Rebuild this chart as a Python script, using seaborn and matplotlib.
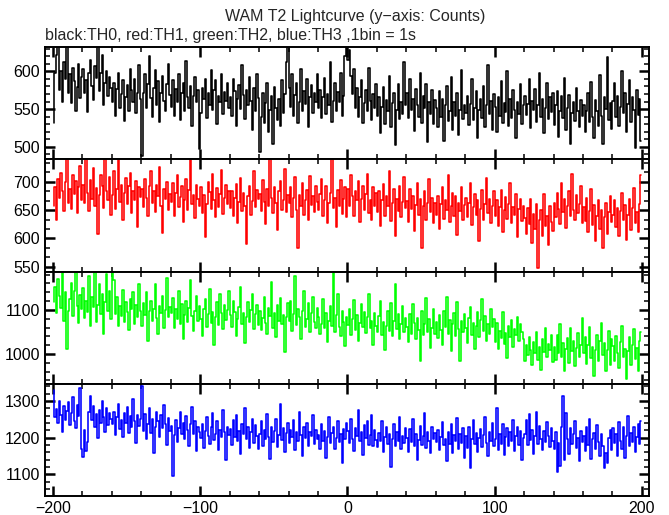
import numpy as np
import pandas as pd
import matplotlib
matplotlib.use("Agg")
import matplotlib.pyplot as plt
from matplotlib.ticker import MultipleLocator, AutoMinorLocator
import seaborn as sns

sns.set_style("ticks")
plt.rcParams['font.family'] = ['Liberation Sans', 'DejaVu Sans']
plt.rcParams['axes.unicode_minus'] = True

# WAM T2 light curve, 1 s bins from -200 s to +200 s
t_start, t_stop, bin_size = -200, 200, 1

th0 = [
    532, 598, 622, 640, 575, 601, 560, 612, 590, 633, 571, 596, 558, 604, 587, 548, 579, 610, 565, 592,
    603, 572, 588, 546, 598, 615, 580, 562, 607, 591, 640, 574, 598, 622, 556, 585, 601, 567, 593, 578,
    560, 584, 541, 577, 598, 552, 570, 589, 534, 566, 582, 548, 603, 575, 559, 590, 545, 571, 608, 563,
    488, 572, 596, 551, 583, 620, 565, 540, 578, 602, 556, 587, 533, 571, 594, 561, 548, 583, 610, 569,
    553, 588, 541, 576, 560, 597, 535, 572, 585, 548, 614, 566, 552, 580, 527, 568, 593, 559, 575, 497,
    545, 578, 563, 590, 538, 571, 556, 602, 549, 575, 588, 530, 567, 559, 596, 544, 573, 561, 585, 552,
    566, 541, 590, 574, 528, 563, 582, 550, 608, 569, 537, 575, 556, 592, 561, 522, 578, 547, 596, 565,
    493, 540, 572, 531, 558, 585, 520, 549, 567, 503, 579, 551, 536, 564, 528, 589, 545, 570, 612, 632,
    578, 553, 596, 541, 569, 585, 532, 560, 603, 548, 574, 557, 590, 526, 566, 582, 545, 571, 559, 597,
    552, 575, 538, 566, 591, 544, 570, 556, 612, 533, 561, 584, 547, 573, 559, 598, 541, 568, 621, 635,
    615, 628, 594, 570, 603, 551, 578, 540, 566, 589, 532, 558, 575, 547, 604, 561, 536, 570, 552, 583,
    541, 566, 518, 553, 579, 530, 562, 547, 594, 526, 558, 571, 502, 549, 583, 537, 560, 544, 612, 555,
    572, 538, 590, 549, 563, 521, 576, 555, 540, 598, 532, 567, 551, 583, 506, 559, 544, 575, 530, 562,
    551, 526, 574, 540, 563, 508, 555, 580, 534, 548, 593, 522, 560, 541, 571, 515, 549, 602, 537, 556,
    545, 568, 529, 557, 590, 536, 552, 574, 511, 549, 563, 538, 581, 526, 556, 608, 543, 561, 522, 570,
    553, 519, 566, 541, 587, 532, 558, 546, 601, 527, 563, 538, 575, 549, 512, 560, 544, 583, 530, 555,
    568, 542, 557, 590, 525, 561, 549, 576, 533, 555, 598, 540, 563, 518, 552, 585, 537, 566, 546, 571,
    529, 556, 574, 513, 548, 567, 538, 591, 522, 551, 569, 503, 545, 560, 534, 578, 547, 526, 562, 541,
    555, 520, 548, 571, 533, 586, 540, 512, 562, 547, 528, 595, 541, 503, 566, 550, 619, 536, 558, 524,
    561, 584, 540, 568, 527, 553, 601, 545, 572, 519, 557, 588, 533, 566, 549, 498, 575, 542, 563, 508,
]

th1 = [
    658, 690, 632, 705, 671, 716, 684, 648, 699, 740, 663, 688, 652, 712, 679, 701, 645, 690, 727, 668,
    695, 662, 740, 681, 648, 703, 670, 724, 657, 689, 608, 676, 712, 692, 654, 740, 683, 667, 709, 641,
    676, 719, 652, 688, 740, 664, 695, 632, 681, 707, 660, 693, 715, 645, 684, 668, 702, 621, 690, 673,
    688, 655, 704, 671, 639, 692, 718, 662, 683, 647, 695, 674, 726, 658, 610, 687, 669, 700, 651, 679,
    664, 697, 640, 681, 712, 655, 673, 692, 629, 668, 705, 651, 686, 740, 660, 677, 636, 694, 670, 657,
    690, 645, 676, 603, 661, 699, 682, 652, 714, 668, 637, 689, 656, 678, 720, 643, 671, 695, 660, 683,
    654, 683, 640, 671, 696, 627, 665, 707, 648, 680, 658, 591, 675, 692, 641, 666, 718, 655, 686, 670,
    679, 648, 703, 665, 626, 688, 657, 740, 672, 645, 691, 662, 615, 683, 701, 650, 668, 722, 647, 676,
    662, 690, 637, 671, 709, 650, 583, 676, 658, 698, 641, 668, 685, 632, 710, 659, 674, 646, 692, 665,
    651, 679, 704, 640, 668, 692, 627, 663, 681, 740, 654, 672, 620, 686, 657, 703, 644, 669, 691, 638,
    688, 658, 712, 675, 640, 683, 667, 701, 629, 670, 692, 651, 679, 714, 645, 668, 633, 690, 657, 681,
    647, 683, 622, 668, 696, 640, 675, 657, 719, 631, 662, 688, 604, 670, 649, 692, 637, 665, 708, 654,
    666, 629, 688, 652, 675, 614, 659, 697, 641, 670, 583, 657, 684, 633, 662, 705, 646, 671, 628, 663,
    642, 675, 617, 660, 691, 635, 668, 650, 712, 629, 657, 681, 640, 674, 606, 663, 648, 690, 633, 659,
    671, 638, 662, 697, 624, 655, 679, 641, 668, 596, 652, 686, 633, 660, 707, 645, 670, 628, 657, 683,
    640, 667, 622, 655, 685, 612, 650, 673, 634, 661, 698, 627, 656, 641, 679, 603, 652, 670, 631, 658,
    636, 608, 653, 625, 670, 592, 643, 617, 661, 548, 632, 650, 604, 678, 622, 640, 588, 657, 629, 613,
    662, 638, 681, 652, 625, 697, 646, 670, 619, 658, 684, 640, 713, 651, 633, 676, 645, 660, 692, 628,
    655, 630, 672, 612, 648, 687, 623, 659, 596, 640, 668, 617, 651, 583, 637, 662, 608, 646, 675, 629,
    641, 667, 620, 653, 604, 648, 681, 632, 659, 597, 642, 670, 615, 653, 689, 628, 646, 611, 660, 712,
]

th2 = [
    1118, 1152, 1093, 1170, 1131, 1104, 1186, 1076, 1140, 1012, 1098, 1125, 1160, 1087, 1142, 1186, 1109, 1070, 1133, 1101,
    1150, 1082, 1120, 1095, 1178, 1064, 1129, 1106, 1186, 1073, 1112, 1158, 1090, 1135, 1046, 1117, 1181, 1098, 1144, 1079,
    1186, 1167, 1091, 1130, 1063, 1109, 1087, 1146, 1072, 1118, 1095, 1054, 1124, 1101, 1140, 1069, 1112, 1083, 1158, 1097,
    1064, 1115, 1089, 1140, 1030, 1097, 1121, 1075, 1102, 1158, 1081, 1046, 1110, 1093, 1132, 1060, 1099, 1172, 1085, 1107,
    1093, 1126, 1058, 1101, 1080, 1142, 1067, 1114, 1034, 1089, 1120, 1073, 1105, 1167, 1086, 1052, 1098, 1131, 1074, 1110,
    1079, 1040, 1103, 1125, 1062, 1091, 1148, 1070, 1096, 1021, 1084, 1118, 1065, 1137, 1092, 1056, 1111, 1077, 1100, 1142,
    1088, 1062, 1121, 1095, 1040, 1079, 1106, 1153, 1069, 1093, 1024, 1085, 1117, 1072, 1099, 1136, 1057, 1090, 1112, 1066,
    1098, 1055, 1082, 1129, 1071, 1046, 1104, 1086, 1163, 1060, 1093, 1038, 1111, 1075, 1128, 1067, 1089, 1004, 1083, 1115,
    1075, 1120, 1052, 1091, 1178, 1066, 1102, 1084, 1035, 1097, 1143, 1061, 1080, 1115, 1049, 1093, 1130, 1072, 1058, 1104,
    1083, 1046, 1069, 1125, 1058, 1092, 1027, 1074, 1110, 1063, 1186, 1050, 1088, 1137, 1061, 1040, 1097, 1073, 1019, 1085,
    1066, 1101, 1043, 1079, 1122, 1055, 1088, 1030, 1070, 1114, 1061, 1096, 1047, 1083, 1136, 1058, 1075, 1020, 1092, 1064,
    1050, 1087, 1121, 1044, 1072, 1009, 1063, 1098, 1053, 1115, 1040, 1076, 1159, 1057, 1090, 1034, 1068, 1108, 1049, 1081,
    1062, 1028, 1091, 1046, 1114, 1070, 1035, 1082, 1055, 985, 1098, 1043, 1067, 1126, 1051, 1079, 1013, 1060, 1103, 1045,
    1072, 1037, 1088, 1055, 1020, 1097, 1061, 1130, 1046, 1078, 1007, 1069, 1093, 1040, 1118, 1056, 985, 1074, 1049, 1090,
    1058, 1025, 1081, 1106, 1043, 1070, 1012, 1064, 1095, 1038, 1077, 1125, 1052, 1087, 1030, 1069, 1046, 1101, 1061, 1080,
    1028, 1071, 1012, 1053, 1036, 1095, 1022, 1047, 990, 1064, 1039, 1078, 1017, 1056, 1043, 1085, 1030, 1069, 1051, 1033,
    985, 1020, 997, 1038, 1010, 975, 1027, 1003, 1051, 987, 1016, 963, 1033, 1005, 1060, 994, 1023, 1009, 1042, 981,
    1015, 987, 1042, 1003, 1068, 994, 1025, 961, 1011, 1036, 980, 1058, 1006, 1029, 972, 1014, 1047, 993, 1020, 1081,
    1003, 1039, 978, 1021, 1062, 991, 1017, 950, 1008, 1044, 985, 1030, 1070, 997, 1024, 962, 1010, 1053, 974, 1035,
    1019, 984, 1041, 1002, 968, 1027, 1063, 993, 1012, 944, 1006, 1038, 975, 1020, 1056, 989, 1013, 961, 1030, 1049,
]

th3 = [
    1330, 1255, 1278, 1240, 1301, 1262, 1215, 1287, 1249, 1272, 1296, 1233, 1268, 1310, 1245, 1226, 1290, 1258, 1335, 1170,
    1146, 1222, 1163, 1187, 1270, 1312, 1248, 1285, 1229, 1263, 1198, 1276, 1240, 1301, 1257, 1216, 1282, 1234, 1268, 1251,
    1236, 1270, 1208, 1255, 1292, 1224, 1247, 1201, 1266, 1239, 1284, 1213, 1258, 1228, 1305, 1244, 1186, 1262, 1231, 1250,
    1340, 1219, 1265, 1196, 1238, 1281, 1212, 1250, 1157, 1229, 1271, 1244, 1203, 1262, 1225, 1290, 1236, 1180, 1254, 1218,
    1232, 1095, 1206, 1248, 1187, 1226, 1270, 1211, 1241, 1195, 1258, 1220, 1177, 1236, 1283, 1209, 1244, 1163, 1229, 1214,
    1198, 1236, 1172, 1219, 1255, 1204, 1183, 1228, 1267, 1193, 1211, 1246, 1165, 1222, 1201, 1274, 1214, 1139, 1230, 1207,
    1224, 1181, 1247, 1203, 1262, 1190, 1218, 1155, 1236, 1209, 1280, 1197, 1228, 1172, 1215, 1251, 1186, 1233, 1205, 1168,
    1210, 1245, 1178, 1221, 1196, 1265, 1203, 1142, 1230, 1189, 1217, 1252, 1175, 1208, 1291, 1194, 1226, 1160, 1213, 1239,
    1185, 1222, 1203, 1248, 1166, 1214, 1191, 1270, 1207, 1150, 1229, 1198, 1241, 1177, 1216, 1204, 1262, 1183, 1220, 1195,
    1207, 1170, 1236, 1191, 1218, 1145, 1202, 1257, 1184, 1213, 1229, 1168, 1199, 1245, 1188, 1211, 1130, 1223, 1196, 1240,
    1218, 1186, 1250, 1197, 1163, 1227, 1205, 1275, 1191, 1214, 1152, 1233, 1199, 1244, 1180, 1208, 1262, 1176, 1221, 1193,
    1175, 1213, 1190, 1246, 1162, 1201, 1230, 1183, 1209, 1121, 1196, 1238, 1177, 1216, 1192, 1257, 1168, 1204, 1185, 1226,
    1199, 1162, 1224, 1187, 1251, 1176, 1210, 1140, 1193, 1232, 1181, 1205, 1268, 1173, 1215, 1190, 1157, 1229, 1196, 1212,
    1188, 1221, 1165, 1203, 1242, 1179, 1197, 1135, 1216, 1183, 1236, 1158, 1207, 1192, 1254, 1170, 1211, 1186, 1225, 1144,
    1204, 1171, 1230, 1118, 1196, 1247, 1182, 1213, 1160, 1199, 1223, 1174, 1208, 1257, 1185, 1149, 1216, 1192, 1239, 1178,
    1195, 1281, 1167, 1210, 1183, 1238, 1152, 1201, 1226, 1176, 1214, 1190, 1249, 1163, 1205, 1229, 1180, 1217, 1138, 1198,
    1211, 1248, 1179, 1264, 1193, 1222, 1156, 1205, 1270, 1183, 1231, 1197, 1166, 1219, 1187, 1243, 1204, 1174, 1226, 1192,
    1168, 1214, 1105, 1186, 1122, 1230, 1313, 1140, 1268, 1196, 1155, 1227, 1183, 1209, 1246, 1171, 1198, 1137, 1219, 1188,
    1205, 1163, 1228, 1181, 1251, 1142, 1196, 1213, 1170, 1234, 1188, 1150, 1209, 1176, 1118, 1157, 1132, 1199, 1221, 1165,
    1227, 1184, 1211, 1150, 1242, 1192, 1168, 1230, 1145, 1205, 1259, 1176, 1213, 1188, 1229, 1161, 1202, 1237, 1183, 1244,
]

time = np.arange(t_start, t_stop, bin_size) + 0.5 * bin_size

channels = [
    # (counts, colour, ylim, major step, minor locator)
    (th0, "black", (483.6, 632.5), 50, MultipleLocator(10)),
    (th1, "#ff0000", (541, 740), 50, AutoMinorLocator(3)),
    (th2, "#00ff00", (932, 1186), 100, MultipleLocator(20)),
    (th3, "#0000ff", (1041, 1346), 100, MultipleLocator(20)),
]

fig = plt.figure(figsize=(6.69, 5.15), dpi=100)

left, width = 45 / 669, 604 / 669
tops = [47, 159, 272, 384, 496]

for i, (counts, color, ylim, major, minor) in enumerate(channels):
    bottom = 1 - tops[i + 1] / 515
    height = (tops[i + 1] - tops[i]) / 515
    ax = fig.add_axes([left, bottom, width, height])
    df = pd.DataFrame({"time": time, "counts": counts})
    sns.lineplot(data=df, x="time", y="counts", color=color, linewidth=1.15,
                 drawstyle="steps-mid", estimator=None, ax=ax)
    ax.set_xlim(-205.4, 204.8)
    ax.set_ylim(*ylim)
    ax.xaxis.set_major_locator(MultipleLocator(100))
    ax.xaxis.set_minor_locator(MultipleLocator(20))
    ax.yaxis.set_major_locator(MultipleLocator(major))
    ax.yaxis.set_minor_locator(minor)
    ax.tick_params(which="both", direction="in", top=True, right=True,
                   bottom=True, left=True, color="black", labelsize=11.5,
                   labelcolor="black")
    ax.tick_params(which="major", length=7, width=1.8)
    ax.tick_params(which="minor", length=3.5, width=1.1)
    ax.set_xlabel("")
    ax.set_ylabel("")
    for s in ax.spines.values():
        s.set_linewidth(1.4)
        s.set_color("black")
    if i < 3:
        ax.set_xticklabels([])

fig.text(0.531, 0.967, "WAM T2 Lightcurve (y\u2212axis: Counts)", ha="center",
         va="center", fontsize=11.5)
fig.text(0.068, 0.932, "black:TH0, red:TH1, green:TH2, blue:TH3 ,1bin = 1s",
         ha="left", va="center", fontsize=11.5)

plt.savefig("out.png", dpi=100)
